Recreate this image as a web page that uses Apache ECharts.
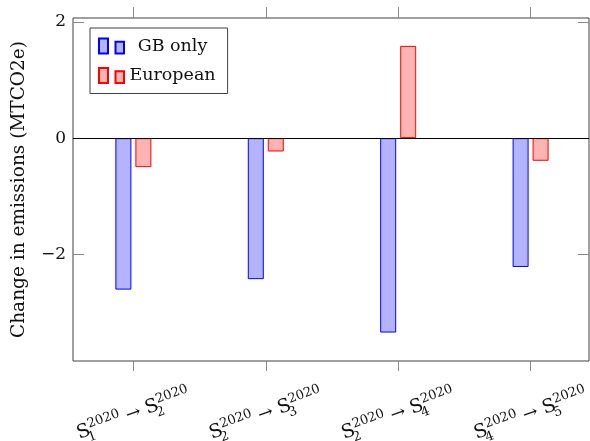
<!DOCTYPE html>
<html>
<head>
<meta charset="utf-8">
<script src="https://cdn.jsdelivr.net/npm/echarts@6/dist/echarts.min.js"></script>
<style>html,body{margin:0;padding:0;background:#fff}#c{width:590px;height:441px}</style>
</head>
<body>
<div id="c"></div>
<script>
const positions = [1, 2, 3, 4];
const categoryLabels = [
  '{s|S}{sb|1}{sp|2020}{ar| → }{s|S}{sb|2}{sp|2020}',
  '{s|S}{sb|2}{sp|2020}{ar| → }{s|S}{sb|3}{sp|2020}',
  '{s|S}{sb|2}{sp|2020}{ar| → }{s|S}{sb|4}{sp|2020}',
  '{s|S}{sb|4}{sp|2020}{ar| → }{s|S}{sb|5}{sp|2020}'
];
const gbOnly = [-2.61, -2.43, -3.35, -2.22];
const european = [-0.50, -0.23, 1.59, -0.39];
const yTicks = [-2, 0, 2];
const seriesNames = ['GB only', 'European'];

const FONT = 'DejaVu Serif';
const chart = echarts.init(document.getElementById('c'), null, {renderer: 'canvas'});
const xMin = 0.544, xMax = 4.441, yMin = -3.84, yMax = 2.07;
const tickGray = '#8a8a8a';

chart.setOption({
  animation: false,
  backgroundColor: '#fff',
  grid: {left: 73, right: 1, top: 18, bottom: 80, containLabel: false, outerBoundsMode: 'none',
    show: true, borderColor: '#404040', borderWidth: 1, backgroundColor: 'transparent'},
  legend: {
    left: 90, top: 28, orient: 'vertical',
    backgroundColor: '#fff', borderColor: '#404040', borderWidth: 1,
    padding: [9, 12, 9, 8], itemGap: 11.5,
    itemWidth: 25, itemHeight: 15,
    icon: 'path://M0,0 L9,0 L9,15 L0,15 Z M16.5,3.3 L25,3.3 L25,15 L16.5,15 Z',
    formatter: n => '{t|' + n + '}',
    textStyle: {fontFamily: FONT, fontSize: 17.5, color: '#111', rich: {t: {width: 87, align: 'center', fontFamily: FONT, fontSize: 17.5}}},
    data: seriesNames
  },
  xAxis: [{
    type: 'value', min: xMin, max: xMax, position: 'bottom',
    axisLine: {show: false, onZero: false}, splitLine: {show: false},
    axisTick: {show: true, inside: false, length: 10, customValues: positions, lineStyle: {color: tickGray}},
    axisLabel: {
      customValues: positions, rotate: 20, align: 'center', verticalAlign: 'middle', margin: 53,
      hideOverlap: false,
      formatter: v => categoryLabels[positions.indexOf(v)],
      rich: {
        s: {fontFamily: FONT, fontSize: 19, lineHeight: 28, color: '#111'},
        sp: {fontFamily: FONT, fontSize: 13, lineHeight: 13, verticalAlign: 'top', padding: [2, 0, 0, 0], color: '#111'},
        sb: {fontFamily: FONT, fontSize: 13, lineHeight: 13, verticalAlign: 'bottom', width: 0, color: '#111'},
        ar: {fontFamily: FONT, fontSize: 18, color: '#111'}
      }
    }
  }, {
    type: 'value', min: xMin, max: xMax, position: 'top',
    axisLine: {show: false, onZero: false}, splitLine: {show: false}, axisLabel: {show: false},
    axisTick: {show: true, inside: false, length: 11, customValues: positions, lineStyle: {color: tickGray}}
  }],
  yAxis: [{
    type: 'value', min: yMin, max: yMax, position: 'left',
    name: 'Change in emissions (MTCO2e)', nameLocation: 'middle', nameGap: 44,
    nameTextStyle: {fontFamily: FONT, fontSize: 18.5, color: '#111'},
    axisLine: {show: false, onZero: false}, splitLine: {show: false},
    axisTick: {show: true, inside: true, length: 11, customValues: yTicks, lineStyle: {color: tickGray}},
    axisLabel: {customValues: yTicks, margin: 7, fontFamily: FONT, fontSize: 17, color: '#111',
      formatter: v => v < 0 ? '\u2212' + Math.abs(v) : String(v)}
  }, {
    type: 'value', min: yMin, max: yMax, position: 'right',
    axisLine: {show: false, onZero: false}, splitLine: {show: false}, axisLabel: {show: false},
    axisTick: {show: true, inside: true, length: 11, customValues: yTicks, lineStyle: {color: tickGray}}
  }],
  series: [{
    name: seriesNames[0], type: 'bar', barWidth: 16, barGap: '25%',
    data: positions.map((p, i) => [p, gbOnly[i]]),
    itemStyle: {color: '#b3b3ff', borderColor: '#0000ff', borderWidth: 1},
    markLine: {silent: true, symbol: 'none', label: {show: false}, lineStyle: {color: '#000', width: 1, type: 'solid'}, data: [{yAxis: 0}]}
  }, {
    name: seriesNames[1], type: 'bar', barWidth: 16, barGap: '25%',
    data: positions.map((p, i) => [p, european[i]]),
    itemStyle: {color: '#ffb3b3', borderColor: '#ff0000', borderWidth: 1}
  }]
});
</script>
</body>
</html>
